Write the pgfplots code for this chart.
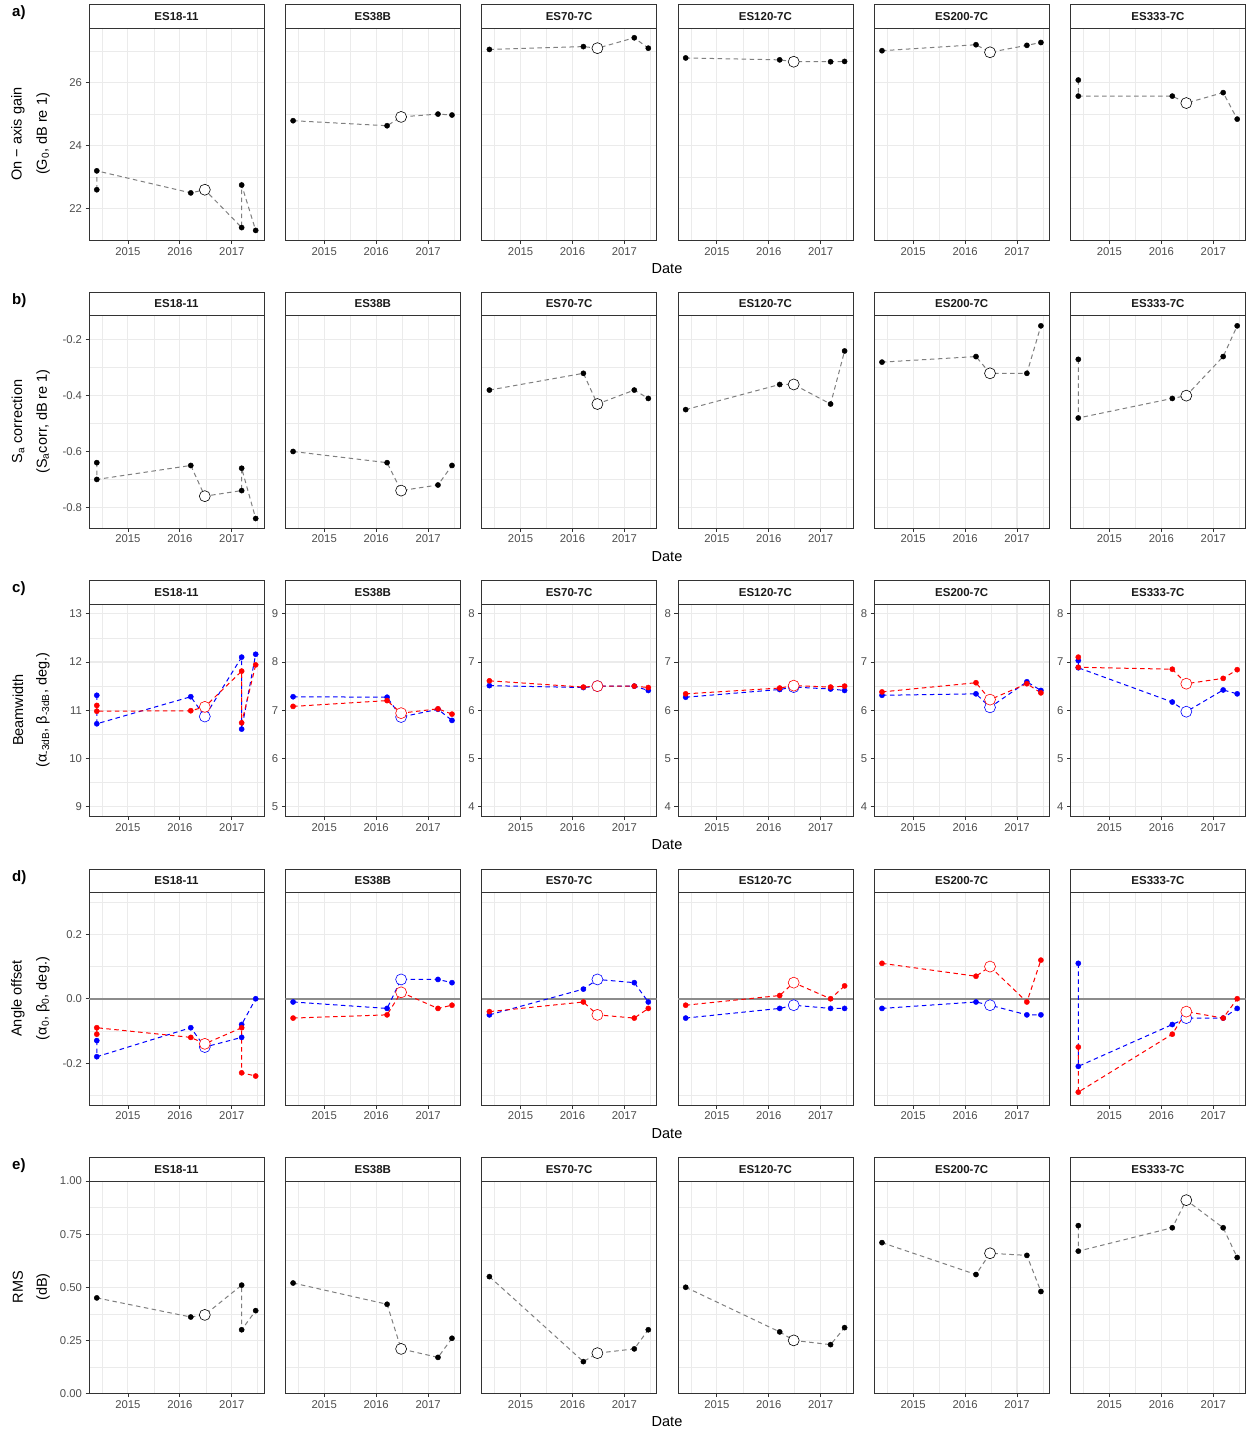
\documentclass[border=0pt]{standalone}
\usepackage{pgfplots}
\pgfplotsset{compat=1.18}
\usepackage{fontspec}
\setmainfont{Liberation Sans}
\definecolor{g92}{RGB}{235,235,235}
\definecolor{g20}{RGB}{51,51,51}
\definecolor{g30}{RGB}{77,77,77}
\definecolor{g50}{RGB}{127,127,127}
\definecolor{g10}{RGB}{26,26,26}
\definecolor{zl}{RGB}{140,140,140}
\pgfplotsset{
 base/.style={width=175pt,height=212.5pt,scale only axis,anchor=north west,
  xmin=2014.25,xmax=2017.62,xtick={2015,2016,2017},xticklabels={2015,2016,2017},
  minor xtick={2014.5,2015.5,2016.5,2017.5},
  grid=both, major grid style={draw=g92,line width=1.1pt}, minor grid style={draw=g92,line width=0.55pt},
  axis line style={draw=g20,line width=0.8pt}, tick style={draw=g20,line width=0.8pt},
  tick align=outside, major tick length=3.5pt, minor tick length=0pt, tick pos=left,
  tick label style={font=\fontsize{11.3}{13}\selectfont, text=g30}},
 noy/.style={yticklabels={}, ytick style={draw=none}},
 rowa/.style={ymin=20.99,ymax=27.73,ytick={22,24,26},yticklabels={22,24,26},minor ytick={21,23,25,27}},
 rowb/.style={ymin=-0.874,ymax=-0.113,ytick={-0.8,-0.6,-0.4,-0.2},yticklabels={-0.8,-0.6,-0.4,-0.2},minor ytick={-0.7,-0.5,-0.3}},
 rowcA/.style={ymin=8.8,ymax=13.2,ytick={9,10,11,12,13},yticklabels={9,10,11,12,13},minor ytick={9.5,10.5,11.5,12.5}},
 rowcB/.style={ymin=4.8,ymax=9.2,ytick={5,6,7,8,9},yticklabels={5,6,7,8,9},minor ytick={5.5,6.5,7.5,8.5}},
 rowcC/.style={ymin=3.8,ymax=8.2,ytick={4,5,6,7,8},yticklabels={4,5,6,7,8},minor ytick={4.5,5.5,6.5,7.5}},
 rowd/.style={ymin=-0.33,ymax=0.33,ytick={-0.2,0,0.2},yticklabels={-0.2,0.0,0.2},minor ytick={-0.3,-0.1,0.1,0.3}},
 rowe/.style={ymin=0,ymax=1,ytick={0,0.25,0.5,0.75,1},yticklabels={0.00,0.25,0.50,0.75,1.00},minor ytick={0.125,0.375,0.625,0.875}},
 kl/.style={draw=g50,line width=1pt,dash pattern=on 4.5pt off 3.5pt,mark=none},
 kp/.style={only marks,mark=*,mark size=2.6pt,color=black},
 ko/.style={only marks,mark=*,mark size=5.5pt,mark options={draw=black,fill=white,line width=0.6pt}},
 bl/.style={draw=blue,line width=1pt,dash pattern=on 4.5pt off 3.5pt,mark=none},
 bp/.style={only marks,mark=*,mark size=2.6pt,color=blue},
 bo/.style={only marks,mark=*,mark size=5.5pt,mark options={draw=blue,fill=white,line width=0.6pt}},
 rl/.style={draw=red,line width=1pt,dash pattern=on 4.5pt off 3.5pt,mark=none},
 rp/.style={only marks,mark=*,mark size=2.6pt,color=red},
 ro/.style={only marks,mark=*,mark size=5.5pt,mark options={draw=red,fill=white,line width=0.6pt}},
 zero/.style={draw=zl,line width=1.7pt,mark=none,forget plot}
}
\newcommand\lfive[6]{\addplot[#1] coordinates {(2014.40,#2)(2016.21,#3)(2016.48,#4)(2017.19,#5)(2017.46,#6)};}
\newcommand\pfive[7]{\addplot[#1] coordinates {(2014.40,#3)(2016.21,#4)(2017.19,#6)(2017.46,#7)};\addplot[#2] coordinates {(2016.48,#5)};}
\newcommand\zline{\addplot[zero] coordinates {(2014.25,0)(2017.62,0)};}
\begin{document}
\begin{tikzpicture}
% ---------------- row a
\begin{axis}[base,rowa,at={(89pt,-28pt)}]
\addplot[kl] coordinates {(2014.40,22.60)(2014.40,23.20)(2016.21,22.50)(2016.48,22.60)(2017.19,21.40)(2017.19,22.75)(2017.46,21.31)};
\addplot[kp] coordinates {(2014.40,22.60)(2014.40,23.20)(2016.21,22.50)(2017.19,21.40)(2017.19,22.75)(2017.46,21.31)};
\addplot[ko] coordinates {(2016.48,22.60)};
\end{axis}
\begin{axis}[base,rowa,noy,at={(285.3pt,-28pt)}]
\lfive{kl}{24.79}{24.63}{24.91}{25.00}{24.97}\pfive{kp}{ko}{24.79}{24.63}{24.91}{25.00}{24.97}
\end{axis}
\begin{axis}[base,rowa,noy,at={(481.6pt,-28pt)}]
\lfive{kl}{27.05}{27.14}{27.09}{27.42}{27.09}\pfive{kp}{ko}{27.05}{27.14}{27.09}{27.42}{27.09}
\end{axis}
\begin{axis}[base,rowa,noy,at={(677.9pt,-28pt)}]
\lfive{kl}{26.78}{26.72}{26.66}{26.66}{26.67}\pfive{kp}{ko}{26.78}{26.72}{26.66}{26.66}{26.67}
\end{axis}
\begin{axis}[base,rowa,noy,at={(874.2pt,-28pt)}]
\lfive{kl}{27.01}{27.20}{26.96}{27.18}{27.27}\pfive{kp}{ko}{27.01}{27.20}{26.96}{27.18}{27.27}
\end{axis}
\begin{axis}[base,rowa,noy,at={(1070.5pt,-28pt)}]
\addplot[kl] coordinates {(2014.40,26.08)(2014.40,25.57)(2016.21,25.57)(2016.48,25.35)(2017.19,25.68)(2017.46,24.84)};
\addplot[kp] coordinates {(2014.40,26.08)(2014.40,25.57)(2016.21,25.57)(2017.19,25.68)(2017.46,24.84)};
\addplot[ko] coordinates {(2016.48,25.35)};
\end{axis}
% ---------------- row b
\begin{axis}[base,rowb,at={(89pt,-315.5pt)}]
\addplot[kl] coordinates {(2014.40,-0.64)(2014.40,-0.70)(2016.21,-0.65)(2016.48,-0.76)(2017.19,-0.74)(2017.19,-0.66)(2017.46,-0.84)};
\addplot[kp] coordinates {(2014.40,-0.64)(2014.40,-0.70)(2016.21,-0.65)(2017.19,-0.74)(2017.19,-0.66)(2017.46,-0.84)};
\addplot[ko] coordinates {(2016.48,-0.76)};
\end{axis}
\begin{axis}[base,rowb,noy,at={(285.3pt,-315.5pt)}]
\lfive{kl}{-0.60}{-0.64}{-0.74}{-0.72}{-0.65}\pfive{kp}{ko}{-0.60}{-0.64}{-0.74}{-0.72}{-0.65}
\end{axis}
\begin{axis}[base,rowb,noy,at={(481.6pt,-315.5pt)}]
\lfive{kl}{-0.38}{-0.32}{-0.43}{-0.38}{-0.41}\pfive{kp}{ko}{-0.38}{-0.32}{-0.43}{-0.38}{-0.41}
\end{axis}
\begin{axis}[base,rowb,noy,at={(677.9pt,-315.5pt)}]
\lfive{kl}{-0.45}{-0.36}{-0.36}{-0.43}{-0.24}\pfive{kp}{ko}{-0.45}{-0.36}{-0.36}{-0.43}{-0.24}
\end{axis}
\begin{axis}[base,rowb,noy,at={(874.2pt,-315.5pt)}]
\lfive{kl}{-0.28}{-0.26}{-0.32}{-0.32}{-0.15}\pfive{kp}{ko}{-0.28}{-0.26}{-0.32}{-0.32}{-0.15}
\end{axis}
\begin{axis}[base,rowb,noy,at={(1070.5pt,-315.5pt)}]
\addplot[kl] coordinates {(2014.40,-0.27)(2014.40,-0.48)(2016.21,-0.41)(2016.48,-0.40)(2017.19,-0.26)(2017.46,-0.15)};
\addplot[kp] coordinates {(2014.40,-0.27)(2014.40,-0.48)(2016.21,-0.41)(2017.19,-0.26)(2017.46,-0.15)};
\addplot[ko] coordinates {(2016.48,-0.40)};
\end{axis}
% ---------------- row c
\begin{axis}[base,rowcA,at={(89pt,-604pt)}]
\addplot[bl] coordinates {(2014.40,11.31)(2014.40,10.72)(2016.21,11.28)(2016.48,10.87)(2017.19,12.10)(2017.19,10.61)(2017.46,12.16)};
\addplot[rl] coordinates {(2014.40,11.10)(2014.40,10.98)(2016.21,10.99)(2016.48,11.07)(2017.19,11.81)(2017.19,10.74)(2017.46,11.94)};
\addplot[bp] coordinates {(2014.40,11.31)(2014.40,10.72)(2016.21,11.28)(2017.19,12.10)(2017.19,10.61)(2017.46,12.16)};
\addplot[rp] coordinates {(2014.40,11.10)(2014.40,10.98)(2016.21,10.99)(2017.19,11.81)(2017.19,10.74)(2017.46,11.94)};
\addplot[bo] coordinates {(2016.48,10.87)};
\addplot[ro] coordinates {(2016.48,11.07)};
\end{axis}
\begin{axis}[base,rowcB,at={(285.3pt,-604pt)}]
\lfive{bl}{7.28}{7.27}{6.86}{7.02}{6.79}\lfive{rl}{7.08}{7.20}{6.94}{7.03}{6.92}
\pfive{bp}{bo}{7.28}{7.27}{6.86}{7.02}{6.79}\pfive{rp}{ro}{7.08}{7.20}{6.94}{7.03}{6.92}
\end{axis}
\begin{axis}[base,rowcC,at={(481.6pt,-604pt)}]
\lfive{bl}{6.51}{6.47}{6.50}{6.50}{6.41}\lfive{rl}{6.61}{6.48}{6.50}{6.50}{6.47}
\pfive{bp}{bo}{6.51}{6.47}{6.50}{6.50}{6.41}\pfive{rp}{ro}{6.61}{6.48}{6.50}{6.50}{6.47}
\end{axis}
\begin{axis}[base,rowcC,at={(677.9pt,-604pt)}]
\lfive{bl}{6.27}{6.43}{6.48}{6.44}{6.41}\lfive{rl}{6.34}{6.46}{6.51}{6.48}{6.50}
\pfive{bp}{bo}{6.27}{6.43}{6.48}{6.44}{6.41}\pfive{rp}{ro}{6.34}{6.46}{6.51}{6.48}{6.50}
\end{axis}
\begin{axis}[base,rowcC,at={(874.2pt,-604pt)}]
\lfive{bl}{6.31}{6.34}{6.06}{6.59}{6.41}\lfive{rl}{6.38}{6.57}{6.22}{6.55}{6.36}
\pfive{bp}{bo}{6.31}{6.34}{6.06}{6.59}{6.41}\pfive{rp}{ro}{6.38}{6.57}{6.22}{6.55}{6.36}
\end{axis}
\begin{axis}[base,rowcC,at={(1070.5pt,-604pt)}]
\addplot[bl] coordinates {(2014.40,7.03)(2014.40,6.88)(2016.21,6.17)(2016.48,5.97)(2017.19,6.42)(2017.46,6.34)};
\addplot[rl] coordinates {(2014.40,7.10)(2014.40,6.89)(2016.21,6.85)(2016.48,6.55)(2017.19,6.66)(2017.46,6.84)};
\addplot[bp] coordinates {(2014.40,7.03)(2014.40,6.88)(2016.21,6.17)(2017.19,6.42)(2017.46,6.34)};
\addplot[rp] coordinates {(2014.40,7.10)(2014.40,6.89)(2016.21,6.85)(2017.19,6.66)(2017.46,6.84)};
\addplot[bo] coordinates {(2016.48,5.97)};
\addplot[ro] coordinates {(2016.48,6.55)};
\end{axis}
% ---------------- row d
\begin{axis}[base,rowd,at={(89pt,-892.5pt)}]
\zline
\addplot[bl] coordinates {(2014.40,-0.13)(2014.40,-0.18)(2016.21,-0.09)(2016.48,-0.15)(2017.19,-0.12)(2017.19,-0.08)(2017.46,0.0)};
\addplot[rl] coordinates {(2014.40,-0.11)(2014.40,-0.09)(2016.21,-0.12)(2016.48,-0.14)(2017.19,-0.09)(2017.19,-0.23)(2017.46,-0.24)};
\addplot[bp] coordinates {(2014.40,-0.13)(2014.40,-0.18)(2016.21,-0.09)(2017.19,-0.12)(2017.19,-0.08)(2017.46,0.0)};
\addplot[rp] coordinates {(2014.40,-0.11)(2014.40,-0.09)(2016.21,-0.12)(2017.19,-0.09)(2017.19,-0.23)(2017.46,-0.24)};
\addplot[bo] coordinates {(2016.48,-0.15)};
\addplot[ro] coordinates {(2016.48,-0.14)};
\end{axis}
\begin{axis}[base,rowd,noy,at={(285.3pt,-892.5pt)}]
\zline
\lfive{bl}{-0.01}{-0.03}{0.06}{0.06}{0.05}\lfive{rl}{-0.06}{-0.05}{0.02}{-0.03}{-0.02}
\pfive{bp}{bo}{-0.01}{-0.03}{0.06}{0.06}{0.05}\pfive{rp}{ro}{-0.06}{-0.05}{0.02}{-0.03}{-0.02}
\end{axis}
\begin{axis}[base,rowd,noy,at={(481.6pt,-892.5pt)}]
\zline
\lfive{bl}{-0.05}{0.03}{0.06}{0.05}{-0.01}\lfive{rl}{-0.04}{-0.01}{-0.05}{-0.06}{-0.03}
\pfive{bp}{bo}{-0.05}{0.03}{0.06}{0.05}{-0.01}\pfive{rp}{ro}{-0.04}{-0.01}{-0.05}{-0.06}{-0.03}
\end{axis}
\begin{axis}[base,rowd,noy,at={(677.9pt,-892.5pt)}]
\zline
\lfive{bl}{-0.06}{-0.03}{-0.02}{-0.03}{-0.03}\lfive{rl}{-0.02}{0.01}{0.05}{0.0}{0.04}
\pfive{bp}{bo}{-0.06}{-0.03}{-0.02}{-0.03}{-0.03}\pfive{rp}{ro}{-0.02}{0.01}{0.05}{0.0}{0.04}
\end{axis}
\begin{axis}[base,rowd,noy,at={(874.2pt,-892.5pt)}]
\zline
\lfive{bl}{-0.03}{-0.01}{-0.02}{-0.05}{-0.05}\lfive{rl}{0.11}{0.07}{0.10}{-0.01}{0.12}
\pfive{bp}{bo}{-0.03}{-0.01}{-0.02}{-0.05}{-0.05}\pfive{rp}{ro}{0.11}{0.07}{0.10}{-0.01}{0.12}
\end{axis}
\begin{axis}[base,rowd,noy,at={(1070.5pt,-892.5pt)}]
\zline
\addplot[bl] coordinates {(2014.40,0.11)(2014.40,-0.21)(2016.21,-0.08)(2016.48,-0.06)(2017.19,-0.06)(2017.46,-0.03)};
\addplot[rl] coordinates {(2014.40,-0.15)(2014.40,-0.29)(2016.21,-0.11)(2016.48,-0.04)(2017.19,-0.06)(2017.46,0.0)};
\addplot[bp] coordinates {(2014.40,0.11)(2014.40,-0.21)(2016.21,-0.08)(2017.19,-0.06)(2017.46,-0.03)};
\addplot[rp] coordinates {(2014.40,-0.15)(2014.40,-0.29)(2016.21,-0.11)(2017.19,-0.06)(2017.46,0.0)};
\addplot[bo] coordinates {(2016.48,-0.06)};
\addplot[ro] coordinates {(2016.48,-0.04)};
\end{axis}
% ---------------- row e
\begin{axis}[base,rowe,at={(89pt,-1181pt)}]
\addplot[kl] coordinates {(2014.40,0.45)(2016.21,0.36)(2016.48,0.37)(2017.19,0.51)(2017.19,0.30)(2017.46,0.39)};
\addplot[kp] coordinates {(2014.40,0.45)(2016.21,0.36)(2017.19,0.51)(2017.19,0.30)(2017.46,0.39)};
\addplot[ko] coordinates {(2016.48,0.37)};
\end{axis}
\begin{axis}[base,rowe,noy,at={(285.3pt,-1181pt)}]
\lfive{kl}{0.52}{0.42}{0.21}{0.17}{0.26}\pfive{kp}{ko}{0.52}{0.42}{0.21}{0.17}{0.26}
\end{axis}
\begin{axis}[base,rowe,noy,at={(481.6pt,-1181pt)}]
\lfive{kl}{0.55}{0.15}{0.19}{0.21}{0.30}\pfive{kp}{ko}{0.55}{0.15}{0.19}{0.21}{0.30}
\end{axis}
\begin{axis}[base,rowe,noy,at={(677.9pt,-1181pt)}]
\lfive{kl}{0.50}{0.29}{0.25}{0.23}{0.31}\pfive{kp}{ko}{0.50}{0.29}{0.25}{0.23}{0.31}
\end{axis}
\begin{axis}[base,rowe,noy,at={(874.2pt,-1181pt)}]
\lfive{kl}{0.71}{0.56}{0.66}{0.65}{0.48}\pfive{kp}{ko}{0.71}{0.56}{0.66}{0.65}{0.48}
\end{axis}
\begin{axis}[base,rowe,noy,at={(1070.5pt,-1181pt)}]
\addplot[kl] coordinates {(2014.40,0.79)(2014.40,0.67)(2016.21,0.78)(2016.48,0.91)(2017.19,0.78)(2017.46,0.64)};
\addplot[kp] coordinates {(2014.40,0.79)(2014.40,0.67)(2016.21,0.78)(2017.19,0.78)(2017.46,0.64)};
\addplot[ko] coordinates {(2016.48,0.91)};
\end{axis}
% ---------------- strips, titles, labels
\foreach \t/\rl/\date in {28/a)/269, 315.5/b)/556.5, 604/c)/845, 892.5/d)/1133.5, 1181/e)/1422}{
  \foreach \x/\lab in {89/ES18-11, 285.3/ES38B, 481.6/ES70-7C, 677.9/ES120-7C, 874.2/ES200-7C, 1070.5/ES333-7C}{
    \draw[draw=g20,fill=white,line width=0.8pt] (\x pt,-\t pt) rectangle ++(175pt,23.5pt);
    \node[font=\bfseries\fontsize{11.5}{13}\selectfont,text=g10] at (\x pt+87.5pt,-\t pt+11.75pt) {\lab};
  }
  \node[font=\fontsize{14.5}{16}\selectfont] at (667pt,-\date pt) {Date};
  \node[font=\bfseries\fontsize{15}{17}\selectfont,anchor=base west,inner sep=0pt] at (12pt,-\t pt+11.5pt) {\rl};
}
\begin{scope}[every node/.style={rotate=90,font=\fontsize{14.5}{16}\selectfont,inner sep=0pt}]
\node at (18pt,-134pt) {On − axis gain};
\node at (43pt,-134pt) {(G\textsubscript{0}, dB re 1)};
\node at (18pt,-421.5pt) {S\textsubscript{a} correction};
\node at (43pt,-421.5pt) {(S\textsubscript{a}corr, dB re 1)};
\node at (18pt,-710pt) {Beamwidth};
\node at (43pt,-710pt) {(α\textsubscript{-3dB}, β\textsubscript{-3dB}, deg.)};
\node at (18pt,-998.5pt) {Angle offset};
\node at (43pt,-998.5pt) {(α\textsubscript{0}, β\textsubscript{0}, deg.)};
\node at (18pt,-1287pt) {RMS};
\node at (43pt,-1287pt) {(dB)};
\end{scope}
\pgfresetboundingbox
\path[use as bounding box] (0pt,0pt) rectangle (1249pt,-1433pt);
\end{tikzpicture}
\end{document}
